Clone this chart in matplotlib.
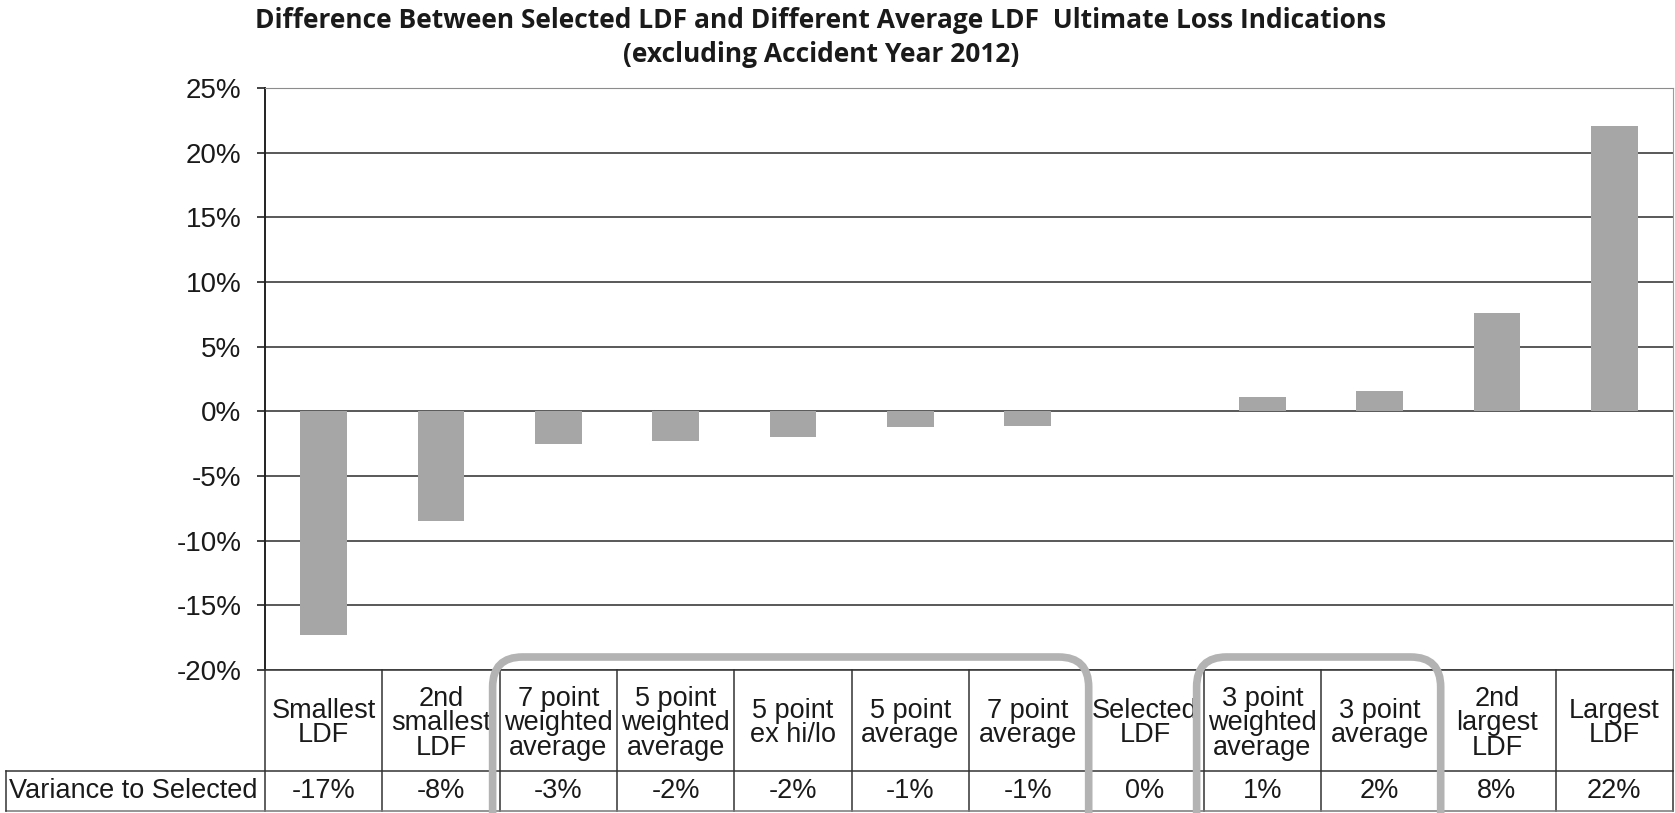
import matplotlib
matplotlib.use('Agg')
from matplotlib import pyplot as plt
from matplotlib.patches import FancyBboxPatch
from matplotlib.transforms import IdentityTransform
from matplotlib.ticker import FuncFormatter

categories = ['Smallest\nLDF', '2nd\nsmallest\nLDF', '7 point\nweighted\naverage',
              '5 point\nweighted\naverage', '5 point\nex hi/lo', '5 point\naverage',
              '7 point\naverage', 'Selected\nLDF', '3 point\nweighted\naverage',
              '3 point\naverage', '2nd\nlargest\nLDF', 'Largest\nLDF']
differences = [-0.173, -0.085, -0.025, -0.023, -0.020, -0.012, -0.011,
               0.0, 0.011, 0.016, 0.076, 0.221]
variance_labels = ['-17%', '-8%', '-3%', '-2%', '-2%', '-1%', '-1%',
                   '0%', '1%', '2%', '8%', '22%']
y_ticks = [-0.20, -0.15, -0.10, -0.05, 0.0, 0.05, 0.10, 0.15, 0.20, 0.25]
row_label = 'Variance to Selected'
highlight_groups = [(2, 6), (8, 9)]

W, H = 1675, 813
FONT = 'Liberation Sans'


def main():
    fig = plt.figure(figsize=(W / 100, H / 100), dpi=100)
    ax = fig.add_axes([265 / W, 143 / H, 1408 / W, 582 / H])
    n = len(categories)
    x = list(range(n))

    ax.bar(x, differences, width=0.4, color='#a6a6a6', zorder=2)
    ax.set_xlim(-0.5, n - 0.5)
    ax.set_ylim(-0.20, 0.25)
    ax.set_yticks(y_ticks)
    ax.yaxis.set_major_formatter(FuncFormatter(lambda v, p: f'{v * 100:.0f}%'))
    ax.set_xticks([])
    ax.grid(axis='y', color='#3c3c3c', linewidth=1.2, zorder=0)
    ax.set_axisbelow(True)
    ax.tick_params(axis='y', direction='out', length=6, width=1.2, pad=11,
                   labelsize=20, color='#222222', labelcolor='#1a1a1a')
    for lab in ax.get_yticklabels():
        lab.set_fontfamily(FONT)
    ax.spines['left'].set_color('#222222')
    ax.spines['left'].set_linewidth(1.4)
    ax.spines['bottom'].set_color('#3c3c3c')
    ax.spines['bottom'].set_linewidth(1.2)
    ax.spines['top'].set_color('#8c8c8c')
    ax.spines['right'].set_color('#9c9c9c')

    # table below the chart
    tab = fig.add_axes([265 / W, 2 / H, 1408 / W, 141 / H])
    tab.set_xlim(-0.5, n - 0.5)
    tab.set_ylim(0, 1)
    tab.axis('off')
    split = 0.285
    label_left = -0.5 - 2.21
    lc = '#333333'
    for k in range(n + 1):
        tab.plot([k - 0.5, k - 0.5], [0, 1], color=lc, lw=1.1, clip_on=False)
    tab.plot([label_left, n - 0.5], [split, split], color=lc, lw=1.1, clip_on=False)
    tab.plot([label_left, n - 0.5], [0, 0], color='#777777', lw=1.1, clip_on=False)
    tab.plot([label_left, label_left], [0, split], color=lc, lw=1.1, clip_on=False)
    for i, (cat, val) in enumerate(zip(categories, variance_labels)):
        tab.text(i, (1 + split) / 2 - 0.02, cat, ha='center', va='center', fontsize=19.5,
                 family=FONT, linespacing=0.92, color='#1a1a1a')
        tab.text(i, split / 2, val, ha='center', va='center', fontsize=19.5,
                 family=FONT, color='#1a1a1a')
    tab.text(label_left + 0.025, split / 2, row_label, ha='left', va='center',
             fontsize=19.5, family=FONT, color='#1a1a1a', clip_on=False)

    # rounded highlight boxes, drawn in pixels
    y_axes_bottom = ax.transAxes.transform((0, 0))[1]
    for i0, i1 in highlight_groups:
        x0 = ax.transData.transform((i0 - 0.56, 0))[0]
        x1 = ax.transData.transform((i1 + 0.52, 0))[0]
        top = y_axes_bottom + 13
        bottom = -40
        box = FancyBboxPatch((x0, bottom), x1 - x0, top - bottom,
                             boxstyle='round,pad=0,rounding_size=30',
                             transform=IdentityTransform(), fill=False,
                             ec='#b3b3b3', lw=5.5, zorder=5)
        fig.add_artist(box)

    fig.text(821 / W, 1 - 21 / H,
             'Difference Between Selected LDF and Different Average LDF  Ultimate Loss Indications',
             ha='center', va='center', fontsize=19, fontweight='bold', family='Open Sans',
             color='#1a1a1a')
    fig.text(821 / W, 1 - 55 / H, '(excluding Accident Year 2012)',
             ha='center', va='center', fontsize=19, fontweight='bold', family='Open Sans',
             color='#1a1a1a')

    fig.savefig('out.png', dpi=100)


if __name__ == "__main__":
    main()
